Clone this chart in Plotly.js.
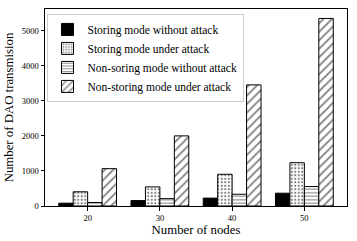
<!DOCTYPE html>
<html><head><meta charset="utf-8">
<script src="https://cdn.plot.ly/plotly-3.0.1.min.js"></script>
<style>html,body{margin:0;padding:0;background:#fff}#chart{width:357px;height:241px}</style>
</head><body><div id="chart"></div>
<script>
const nodes = ['20', '30', '40', '50'];
const storingNoAttack = [80, 155, 225, 365];
const storingAttack = [405, 545, 905, 1235];
const nonStoringNoAttack = [100, 210, 335, 555];
const nonStoringAttack = [1065, 2000, 3455, 5350];
const seriesNames = ['Storing mode without attack', 'Storing mode under attack', 'Non-soring mode without attack', 'Non-storing mode under attack'];
const yTicks = [0, 1000, 2000, 3000, 4000, 5000];

const shapes = ['', '.', '-', '/'];
const values = [storingNoAttack, storingAttack, nonStoringNoAttack, nonStoringAttack];
const data = values.map((v, i) => ({
  type: 'bar', x: nodes, y: v, name: seriesNames[i],
  marker: {
    color: i === 0 ? 'black' : 'white',
    line: {color: 'black', width: 1},
    pattern: i === 0 ? {shape: ''} : {shape: shapes[i], fgcolor: 'black', bgcolor: 'white', fillmode: 'overlay', size: i === 3 ? 6 : 3.5, solidity: 0.3}
  }
}));

const fam = 'Liberation Serif';
const f = s => ({family: fam, size: s, color: 'black'});
Plotly.newPlot('chart', data, {
  width: 357, height: 241,
  margin: {l: 45, r: 10, t: 9, b: 35},
  paper_bgcolor: 'white', plot_bgcolor: 'white',
  font: f(11),
  barmode: 'group', bargap: 0.2, bargroupgap: 0,
  showlegend: true,
  legend: {x: 0.005, y: 0.975, xanchor: 'left', yanchor: 'top', bgcolor: 'rgba(255,255,255,0.8)', bordercolor: '#cccccc', borderwidth: 1, font: f(11.5), tracegroupgap: 0, itemwidth: 30},
  xaxis: {type: 'category', range: [-0.59, 3.59], showgrid: false, zeroline: false, showline: true, linecolor: 'black', linewidth: 1, mirror: true, ticks: 'outside', ticklen: 3.5, tickcolor: 'black', tickfont: f(8.5),
    title: {text: 'Number of nodes', font: f(12.8), standoff: 3}},
  yaxis: {range: [0, 5620], tickvals: yTicks, ticktext: yTicks.map(String), showgrid: false, zeroline: false, showline: true, linecolor: 'black', linewidth: 1, mirror: true, ticks: 'outside', ticklen: 3.5, tickcolor: 'black', tickfont: f(8.5),
    title: {text: 'Number of DAO transmision', font: f(12.8), standoff: 5}}
}, {staticPlot: true});
</script></body></html>
